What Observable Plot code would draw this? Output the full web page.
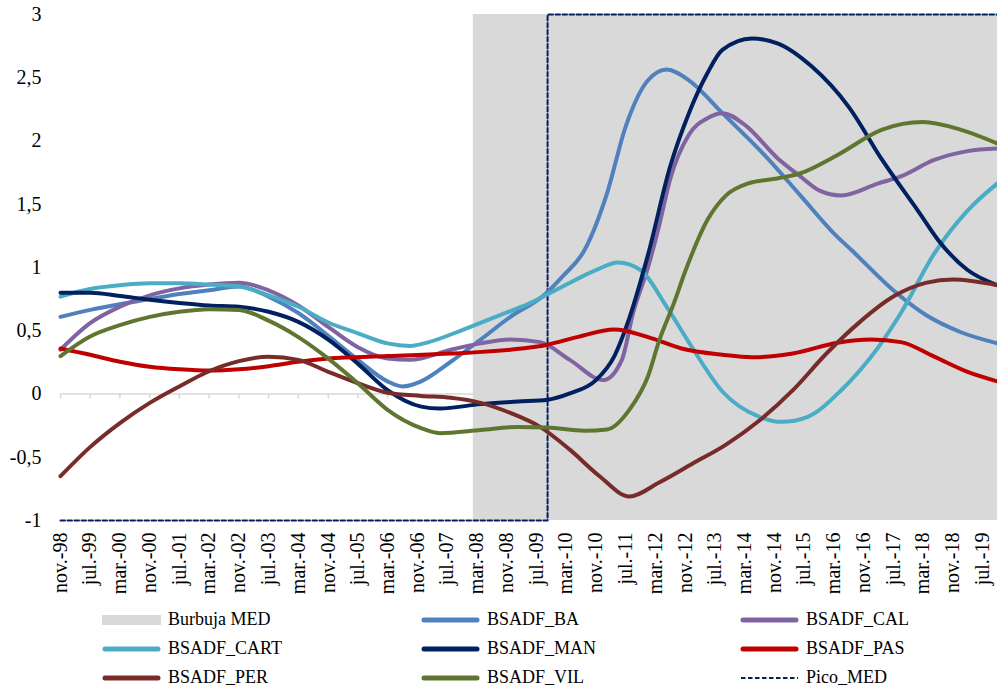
<!DOCTYPE html>
<html><head><meta charset="utf-8">
<script src="https://cdn.jsdelivr.net/npm/d3@7"></script>
<script src="https://cdn.jsdelivr.net/npm/@observablehq/plot@0.6"></script>
<style>
body{margin:0;background:#fff;font-family:"Liberation Serif","Times New Roman",serif;}
#chart{width:997px;height:605px;}
#legend{position:relative;width:997px;height:86px;}
.item{position:absolute;display:flex;align-items:center;height:29px;font-size:18px;color:#000;white-space:nowrap;}
.item svg{margin-right:7px;}
</style></head><body>
<div id="chart"></div><div id="legend"></div>
<script>
// ---- data (month, value) ----
const BA = [["1998-11",0.61],["1999-07",0.665],["2000-03",0.71],["2000-11",0.75],["2001-07",0.79],["2002-03",0.82],["2002-11",0.85],["2003-07",0.77],["2004-03",0.64],["2004-11",0.46],["2005-07",0.27],["2006-03",0.10],["2006-07",0.06],["2006-12",0.10],["2007-08",0.255],["2008-04",0.43],["2008-12",0.61],["2009-09",0.78],["2010-02",0.93],["2010-08",1.14],["2011-02",1.59],["2011-07",2.11],["2012-01",2.48],["2012-06",2.565],["2012-12",2.48],["2013-09",2.22],["2014-08",1.90],["2015-06",1.57],["2016-03",1.27],["2016-08",1.13],["2017-07",0.82],["2018-04",0.62],["2019-01",0.49],["2019-11",0.40]];
const CAL = [["1998-11",0.35],["1999-07",0.56],["2000-03",0.69],["2000-11",0.78],["2001-07",0.835],["2002-03",0.865],["2002-11",0.88],["2003-07",0.82],["2004-03",0.70],["2004-11",0.53],["2005-07",0.37],["2006-03",0.28],["2006-09",0.27],["2007-08",0.35],["2008-04",0.40],["2008-12",0.43],["2009-08",0.41],["2010-04",0.27],["2011-01",0.11],["2011-06",0.27],["2011-09",0.64],["2012-01",1.0],["2012-04",1.33],["2012-07",1.70],["2012-12",2.05],["2013-05",2.18],["2013-09",2.22],["2014-03",2.13],["2014-12",1.86],["2015-06",1.72],["2015-11",1.61],["2016-05",1.57],["2017-03",1.665],["2017-09",1.72],["2018-06",1.85],["2019-03",1.92],["2019-11",1.94]];
const CART = [["1998-11",0.77],["1999-07",0.83],["2000-03",0.86],["2000-11",0.875],["2001-07",0.875],["2002-03",0.865],["2002-11",0.85],["2003-07",0.78],["2004-03",0.69],["2004-11",0.565],["2005-07",0.48],["2006-03",0.40],["2006-09",0.38],["2007-02",0.41],["2007-11",0.505],["2008-08",0.61],["2009-05",0.715],["2010-02",0.85],["2010-11",0.98],["2011-05",1.04],["2011-11",0.98],["2012-06",0.69],["2013-01",0.36],["2013-09",0.02],["2014-07",-0.18],["2015-01",-0.22],["2015-08",-0.18],["2016-05",0.03],["2017-03",0.37],["2017-09",0.64],["2018-06",1.11],["2019-03",1.45],["2019-11",1.665]];
const MAN = [["1998-11",0.80],["1999-07",0.80],["2000-03",0.775],["2000-11",0.745],["2001-07",0.72],["2002-03",0.70],["2002-11",0.69],["2003-07",0.65],["2004-03",0.57],["2004-11",0.43],["2005-07",0.24],["2006-03",0.03],["2006-12",-0.10],["2007-05",-0.115],["2008-04",-0.08],["2009-02",-0.06],["2009-10",-0.045],["2010-04",0.005],["2010-11",0.11],["2011-04",0.30],["2011-08",0.60],["2012-01",1.10],["2012-07",1.80],["2012-12",2.22],["2013-05",2.535],["2013-09",2.72],["2014-05",2.81],["2014-12",2.77],["2015-09",2.59],["2016-07",2.27],["2017-04",1.85],["2018-02",1.43],["2018-07",1.22],["2019-03",0.98],["2019-11",0.86]];
const PAS = [["1998-11",0.36],["1999-07",0.31],["2000-03",0.255],["2000-11",0.215],["2001-07",0.195],["2002-03",0.185],["2002-11",0.195],["2003-07",0.22],["2004-03",0.255],["2004-11",0.28],["2006-03",0.30],["2007-08",0.32],["2008-12",0.35],["2009-10",0.39],["2010-06",0.45],["2011-04",0.51],["2012-01",0.45],["2012-10",0.36],["2013-09",0.31],["2014-05",0.29],["2015-04",0.32],["2016-04",0.405],["2017-01",0.43],["2017-09",0.41],["2018-06",0.295],["2019-03",0.175],["2019-11",0.10]];
const PER = [["1998-11",-0.65],["1999-07",-0.42],["2000-03",-0.23],["2000-11",-0.07],["2001-07",0.06],["2002-03",0.18],["2002-11",0.26],["2003-07",0.295],["2004-03",0.27],["2004-11",0.175],["2005-07",0.085],["2006-03",0.01],["2006-12",-0.015],["2007-08",-0.03],["2008-04",-0.07],["2008-12",-0.15],["2009-08",-0.26],["2010-04",-0.44],["2010-12",-0.65],["2011-08",-0.81],["2012-04",-0.70],["2013-01",-0.55],["2013-10",-0.40],["2014-07",-0.21],["2015-04",0.03],["2016-01",0.32],["2016-10",0.57],["2017-07",0.77],["2018-04",0.88],["2018-11",0.905],["2019-11",0.86]];
const VIL = [["1998-11",0.30],["1999-07",0.455],["2000-03",0.545],["2000-11",0.61],["2001-07",0.65],["2002-03",0.67],["2002-11",0.665],["2003-07",0.58],["2004-03",0.45],["2004-11",0.28],["2005-07",0.085],["2006-03",-0.125],["2006-12",-0.27],["2007-05",-0.31],["2008-04",-0.285],["2009-02",-0.26],["2009-10",-0.265],["2010-08",-0.29],["2011-02",-0.28],["2011-08",-0.125],["2012-01",0.14],["2012-04",0.42],["2012-08",0.72],["2012-11",0.97],["2013-05",1.375],["2013-10",1.57],["2014-04",1.665],["2014-12",1.705],["2015-06",1.745],["2016-04",1.89],["2017-04",2.09],["2018-03",2.15],["2019-01",2.09],["2019-11",1.98]];

const burbujaMED = {start: "2008-02", end: "2019-11"};
const picoDates = ["1998-11", "2009-10", "2019-11"];
const picoValues = [-1, 3, 3];

const seriesNames = ["BSADF_BA","BSADF_CAL","BSADF_CART","BSADF_MAN","BSADF_PAS","BSADF_PER","BSADF_VIL"];
const seriesData = [BA, CAL, CART, MAN, PAS, PER, VIL];
const seriesColors = ["#4F81BD","#8064A2","#4BACC6","#002060","#C00000","#772C2A","#5F7630"];

const xTickLabels = ["nov.-98","jul.-99","mar.-00","nov.-00","jul.-01","mar.-02","nov.-02","jul.-03","mar.-04","nov.-04","jul.-05","mar.-06","nov.-06","jul.-07","mar.-08","nov.-08","jul.-09","mar.-10","nov.-10","jul.-11","mar.-12","nov.-12","jul.-13","mar.-14","nov.-14","jul.-15","mar.-16","nov.-16","jul.-17","mar.-18","nov.-18","jul.-19"];
const yTicks = [-1,-0.5,0,0.5,1,1.5,2,2.5,3];

// ---- build ----
const parse = d3.utcParse("%Y-%m");
const x0 = parse("1998-11"), x1 = parse("2019-11");
const tickDates = xTickLabels.map((_, i) => d3.utcMonth.offset(x0, 8 * i));
const labelByTime = new Map(tickDates.map((d, i) => [+d, xTickLabels[i]]));

const rows = seriesNames.flatMap((name, k) => seriesData[k].map(([m, v]) => ({series: name, date: parse(m), value: v})));
const pico = picoDates.map((m, i) => ({date: parse(m), value: picoValues[i]}));
const bubble = [{start: parse(burbujaMED.start), end: parse(burbujaMED.end)}];

const plot = Plot.plot({
  width: 997, height: 605,
  marginLeft: 60, marginRight: 0, marginTop: 14, marginBottom: 85,
  style: {fontFamily: '"Liberation Serif","Times New Roman",serif', fontSize: "20px", color: "#000", background: "#fff"},
  x: {type: "utc", domain: [x0, x1]},
  y: {domain: [-1, 3]},
  marks: [
    Plot.ruleY([0], {stroke: "#d9d9d9", strokeWidth: 1.5}),
    Plot.ruleX(tickDates, {x: d => d, y1: 0, y2: -0.04, stroke: "#d9d9d9", strokeWidth: 1.5}),
    Plot.rect(bubble, {x1: "start", x2: "end", y1: -1, y2: 3, fill: "#d9d9d9"}),
    Plot.line(pico, {x: "date", y: "value", curve: "step-after", stroke: "#002060", strokeWidth: 2, strokeDasharray: "4.5,2.5"}),
    ...seriesNames.map((name, k) => Plot.line(rows.filter(r => r.series === name), {
      x: "date", y: "value", stroke: seriesColors[k], strokeWidth: 4, curve: "monotone-x",
      strokeLinecap: "round", strokeLinejoin: "round"
    })),
    Plot.axisX(tickDates, {tickSize: 0, tickPadding: 12, tickRotate: -90, tickFormat: d => labelByTime.get(+d), fontSize: 20, label: null}),
    Plot.axisY(yTicks, {tickSize: 0, tickPadding: 19, tickFormat: d => String(d).replace(".", ","), fontSize: 20, label: null})
  ]
});
document.getElementById("chart").appendChild(plot);

// ---- legend ----
const legendNames = ["Burbuja MED", ...seriesNames, "Pico_MED"];
const legend = document.getElementById("legend");
legendNames.forEach((name, i) => {
  const col = i % 3, row = Math.floor(i / 3);
  const item = document.createElement("div");
  item.className = "item";
  item.style.left = (102 + col * 319) + "px";
  item.style.top = (row * 29) + "px";
  let sw;
  if (name === "Burbuja MED") {
    sw = `<svg width="59" height="12"><rect x="0" y="1" width="59" height="10" fill="#d9d9d9"/></svg>`;
  } else if (name === "Pico_MED") {
    sw = `<svg width="59" height="12"><line x1="1" x2="58" y1="6" y2="6" stroke="#002060" stroke-width="2" stroke-dasharray="4.5,2.5"/></svg>`;
  } else {
    const c = seriesColors[seriesNames.indexOf(name)];
    sw = `<svg width="59" height="12"><line x1="3" x2="56" y1="6" y2="6" stroke="${c}" stroke-width="5" stroke-linecap="round"/></svg>`;
  }
  item.innerHTML = sw + `<span>${name}</span>`;
  legend.appendChild(item);
});
</script></body></html>
